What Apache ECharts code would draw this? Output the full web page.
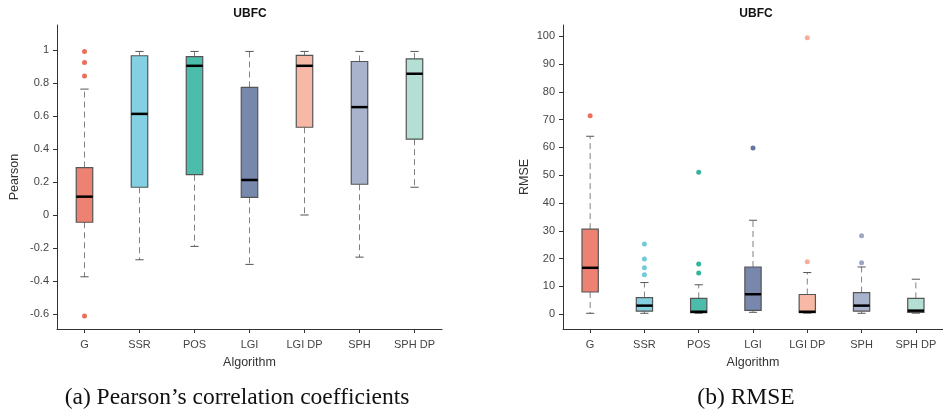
<!DOCTYPE html>
<html><head><meta charset="utf-8">
<script src="https://cdn.jsdelivr.net/npm/echarts@6/dist/echarts.min.js"></script>
<style>html,body{margin:0;padding:0;background:#fff}#c{width:943px;height:412px}</style>
</head><body><div id="c"></div>
<script>
const categories = ['G','SSR','POS','LGI','LGI DP','SPH','SPH DP'];
// [low whisker, Q1, median, Q3, high whisker]
const pearsonBoxes = [
  [-0.374, -0.044, 0.111, 0.287, 0.762],
  [-0.271, 0.168, 0.612, 0.964, 0.99],
  [-0.19, 0.244, 0.903, 0.958, 0.99],
  [-0.299, 0.107, 0.212, 0.772, 0.99],
  [0.0, 0.531, 0.903, 0.966, 0.99],
  [-0.255, 0.186, 0.653, 0.929, 0.99],
  [0.168, 0.459, 0.855, 0.945, 0.99]
];
// [category index, value]
const pearsonOutliers = [[0, 0.99],[0, 0.923],[0, 0.842],[0, -0.612]];
const rmseBoxes = [
  [0.35, 8.0, 16.7, 30.6, 64.0],
  [0.35, 1.1, 3.1, 6.0, 11.4],
  [0.35, 0.6, 0.9, 5.7, 10.6],
  [0.7, 1.4, 7.2, 17.0, 33.8],
  [0.4, 0.6, 0.9, 7.1, 15.0],
  [0.35, 1.1, 3.1, 7.8, 17.0],
  [0.4, 0.7, 1.3, 5.7, 12.6]
];
const rmseOutliers = [[0, 71.4],[1, 25.3],[1, 19.9],[1, 16.7],[1, 14.2],[2, 51.1],[2, 18.1],[2, 14.8],[3, 59.8],[4, 99.4],[4, 18.9],[5, 28.2],[5, 18.5]];
const boxColors = ['#EE8272','#83D0E2','#4DBDAB','#7788AC','#F7B9A6','#A9B3CB','#B3DFD5'];
const pointColors = ['#E64B35','#4DBBD5','#00A087','#3C5488','#F39B7F','#8491B4','#91D1C2'];

const FONT = 'Liberation Sans, Arial, sans-serif';

function renderBox(params, api) {
  const xi = api.value(0);
  const low = api.coord([xi, api.value(1)]);
  const q1 = api.coord([xi, api.value(2)]);
  const med = api.coord([xi, api.value(3)]);
  const q3 = api.coord([xi, api.value(4)]);
  const high = api.coord([xi, api.value(5)]);
  const band = api.size([1, 0])[0];
  const bw = band * 0.3;
  const cw = bw * 0.5;
  const cx = low[0];
  const dash = {stroke: '#808080', lineWidth: 1, lineDash: [6, 4]};
  const cap = {stroke: '#555', lineWidth: 1};
  return {
    type: 'group',
    children: [
      {type: 'line', shape: {x1: cx, y1: q1[1], x2: cx, y2: low[1]}, style: dash},
      {type: 'line', shape: {x1: cx, y1: q3[1], x2: cx, y2: high[1]}, style: dash},
      {type: 'line', shape: {x1: cx - cw/2, y1: low[1], x2: cx + cw/2, y2: low[1]}, style: cap},
      {type: 'line', shape: {x1: cx - cw/2, y1: high[1], x2: cx + cw/2, y2: high[1]}, style: cap},
      {type: 'rect', shape: {x: cx - bw/2, y: q3[1], width: bw, height: q1[1] - q3[1]},
        style: {fill: boxColors[xi], stroke: '#555', lineWidth: 1.2}},
      {type: 'line', shape: {x1: cx - bw/2, y1: med[1], x2: cx + bw/2, y2: med[1]},
        style: {stroke: '#000', lineWidth: 2.5}}
    ]
  };
}

function boxData(arr) { return arr.map((b, i) => [i].concat(b)); }

const axisLineStyle = {show: true, onZero: false, lineStyle: {color: '#333', width: 1}};
const tickStyle = {show: true, length: 4, lineStyle: {color: '#333'}};
const labelStyle = {color: '#444', fontSize: 11, fontFamily: FONT};
const nameStyle = {color: '#333', fontSize: 12.5, fontFamily: FONT};

const option = {
  animation: false,
  grid: [
    {left: 57, top: 25, width: 385, height: 304},
    {left: 563, top: 25, width: 387, height: 304}
  ],
  xAxis: [0, 1].map(g => ({
    type: 'category', gridIndex: g, data: categories,
    axisLine: axisLineStyle,
    axisTick: Object.assign({alignWithLabel: true}, tickStyle),
    axisLabel: Object.assign({margin: 10, interval: 0}, labelStyle),
    splitLine: {show: false},
    name: 'Algorithm', nameLocation: 'middle', nameGap: 27, nameTextStyle: nameStyle
  })),
  yAxis: [
    {type: 'value', gridIndex: 0, min: -0.69, max: 1.15, splitNumber: 9, minInterval: 0.2, maxInterval: 0.2,
      axisLine: axisLineStyle, axisTick: tickStyle, splitLine: {show: false},
      name: 'Pearson', nameLocation: 'middle', nameGap: 36, nameTextStyle: nameStyle,
      axisLabel: Object.assign({showMinLabel: false, showMaxLabel: false, formatter: v => String(Math.round(v*10)/10)}, labelStyle)},
    {type: 'value', gridIndex: 1, min: -5.3, max: 104, splitNumber: 10, minInterval: 10, maxInterval: 10,
      axisLine: axisLineStyle, axisTick: tickStyle, splitLine: {show: false},
      name: 'RMSE', nameLocation: 'middle', nameGap: 32, nameTextStyle: nameStyle,
      axisLabel: Object.assign({showMinLabel: false, showMaxLabel: false}, labelStyle)}
  ],
  series: [
    {type: 'custom', xAxisIndex: 0, yAxisIndex: 0, renderItem: renderBox, data: boxData(pearsonBoxes),
      encode: {x: 0, y: [1,2,3,4,5]}},
    {type: 'scatter', xAxisIndex: 0, yAxisIndex: 0, symbolSize: 5, data: pearsonOutliers,
      itemStyle: {color: p => pointColors[p.value[0]]}},
    {type: 'custom', xAxisIndex: 1, yAxisIndex: 1, renderItem: renderBox, data: boxData(rmseBoxes),
      encode: {x: 0, y: [1,2,3,4,5]}},
    {type: 'scatter', xAxisIndex: 1, yAxisIndex: 1, symbolSize: 5, data: rmseOutliers,
      itemStyle: {color: p => pointColors[p.value[0]]}}
  ],
  graphic: [
    {type: 'text', x: 250, y: 14, style: {text: 'UBFC', font: 'bold 12px ' + FONT, fill: '#111', textAlign: 'center', textVerticalAlign: 'middle'}},
    {type: 'text', x: 756, y: 14, style: {text: 'UBFC', font: 'bold 12px ' + FONT, fill: '#111', textAlign: 'center', textVerticalAlign: 'middle'}},
    {type: 'text', x: 237, y: 398, style: {text: '(a) Pearson\u2019s correlation coefficients', font: '23.5px Liberation Serif, Times New Roman, serif', fill: '#111', textAlign: 'center', textVerticalAlign: 'middle'}},
    {type: 'text', x: 746, y: 398, style: {text: '(b) RMSE', font: '23.5px Liberation Serif, Times New Roman, serif', fill: '#111', textAlign: 'center', textVerticalAlign: 'middle'}}
  ]
};
echarts.init(document.getElementById('c')).setOption(option);
</script></body></html>
